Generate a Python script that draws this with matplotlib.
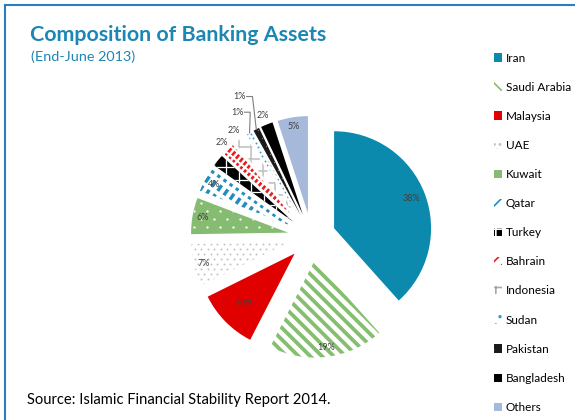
import numpy as np
import matplotlib
matplotlib.use("Agg")
import matplotlib.pyplot as plt
from matplotlib.lines import Line2D
from matplotlib.patches import Patch
from matplotlib.collections import LineCollection

plt.rcParams['font.family'] = ['Lato', 'DejaVu Sans']
plt.rcParams['lines.scale_dashes'] = False
plt.rcParams['hatch.linewidth'] = 1.2

# ---- data ----
countries = ["Iran", "Saudi Arabia", "Malaysia", "UAE", "Kuwait", "Qatar", "Turkey",
             "Bahrain", "Indonesia", "Sudan", "Pakistan", "Bangladesh", "Others"]
shares = [38, 19, 10, 7, 6, 4, 2, 2, 2, 1, 1, 2, 5]
show_label = [True, True, True, True, True, True, False, True, True, True, True, True, True]

title = "Composition of Banking Assets"
subtitle = "(End-June 2013)"
source = "Source: Islamic Financial Stability Report 2014."

# ---- styles ----
face = ['#0B8AAD', 'white', '#E00000', 'white', '#86BC72', 'white', 'black',
        'white', 'white', 'white', '#1A1A1A', 'black', '#A6B9DA']
patterns = [
    None,
    ('stripes', dict(angle=-45, spacing=8.3, width=3.8, color='#86BE70')),
    None,
    ('dots', dict(dx=6.5, dy=5.0, size=2.0, color='#C4C4C4')),
    ('dots', dict(dx=13.0, dy=8.0, size=2.4, color='#F2F7EE')),
    ('stripes', dict(angle=55, spacing=7.5, width=3.4, color='#1F8DBF', dash=(7, 4))),
    ('grid', dict(spacing=12.5, width=1.3, color='white', angle=0)),
    ('stripes', dict(angle=50, spacing=5.0, width=2.6, color='#E81E1E', dash=(5, 2))),
    ('grid', dict(spacing=12.0, width=1.6, color='#C0C0C0', angle=0)),
    ('dots', dict(dx=4.5, dy=4.5, size=1.9, color='#3A9BD0')),
    ('dots', dict(dx=8.0, dy=8.0, size=1.2, color='#888888')),
    None,
    None,
]
legend_hatch = [None, '\\\\\\', None, '...', '.', '///', '++', '///', '++', '..', '.', None, None]
legend_hcol = ['#0B8AAD', '#86BE70', '#E00000', '#BDBDBD', 'white', '#1F8DBF', 'white',
               '#E81E1E', '#A8A8A8', '#3A9BD0', 'white', 'black', '#A6B9DA']
label_r = [0.85, 0.9, 0.73, 0.9, 0.89, 0.9, 0.9, 1.1, 1.11, 1.25, 1.38, 1.1, 0.9]
leader = [False] * 9 + [True, True] + [False, False]

W, H = 575, 420
R = 97.0
cx, cy = 311.7, 420 - 236.8
PT = 0.72  # points per pixel at 100 dpi

fig = plt.figure(figsize=(W / 100, H / 100), dpi=100)
ax = fig.add_axes([0, 0, 1, 1])

wedges, _ = ax.pie(shares, startangle=90, counterclock=False, explode=[0.247] * len(shares),
                   wedgeprops=dict(linewidth=0))
for i, w in enumerate(wedges):
    w.set_facecolor(face[i])
    w.set_linewidth(0)


def add_stripes(w, angle, spacing, width, color, dash=None):
    c = np.array(w.center)
    a = np.deg2rad(angle)
    u = np.array([np.cos(a), np.sin(a)])
    n = np.array([-u[1], u[0]])
    s = spacing / R
    segs = []
    for k in np.arange(-1.5, 1.5 + s, s):
        p = c + k * n
        segs.append([p - 1.5 * u, p + 1.5 * u])
    ls = 'solid' if dash is None else (0, (dash[0] * PT, dash[1] * PT))
    lc = LineCollection(segs, colors=color, linewidths=width * PT, linestyles=ls,
                        capstyle='butt', zorder=w.get_zorder() + 0.1)
    ax.add_collection(lc)
    lc.set_clip_path(w)


def add_dots(w, dx, dy, size, color):
    c = np.array(w.center)
    sx, sy = dx / R, dy / R
    xs, ys = [], []
    for j, y in enumerate(np.arange(c[1] - 1.1, c[1] + 1.1, sy)):
        off = (sx / 2) if j % 2 else 0
        for x in np.arange(c[0] - 1.1 + off, c[0] + 1.1, sx):
            xs.append(x)
            ys.append(y)
    sc = ax.scatter(xs, ys, s=(size * PT) ** 2, c=color, linewidths=0,
                    zorder=w.get_zorder() + 0.1)
    sc.set_clip_path(w)


def add_grid(w, spacing, width, color, angle=0):
    add_stripes(w, angle, spacing, width, color)
    add_stripes(w, angle + 90, spacing, width, color)


for i, w in enumerate(wedges):
    if patterns[i] is None:
        continue
    kind, p = patterns[i]
    if kind == 'stripes':
        add_stripes(w, **p)
    elif kind == 'dots':
        add_dots(w, **p)
    elif kind == 'grid':
        add_grid(w, **p)

ax.set_xlim(-cx / R, (W - cx) / R)
ax.set_ylim(-cy / R, (H - cy) / R)
ax.set_aspect('equal')
ax.axis('off')

# data labels
for i, w in enumerate(wedges):
    if not show_label[i]:
        continue
    ang = np.deg2rad((w.theta1 + w.theta2) / 2)
    c0, c1 = w.center
    lx = c0 + label_r[i] * np.cos(ang)
    ly = c1 + label_r[i] * np.sin(ang)
    ax.text(lx, ly, f"{shares[i]}%", ha='center', va='center', fontsize=6.5,
            color='#404040', zorder=10)
    if leader[i]:
        ox = c0 + np.cos(ang)
        oy = c1 + np.sin(ang)
        rx = lx + 0.075
        ax.plot([rx, rx + 0.06, ox], [ly, ly, oy], color='#7F7F7F', lw=0.8, zorder=10)

# legend
handles = []
for i in range(len(countries)):
    handles.append(Patch(facecolor=face[i], edgecolor=legend_hcol[i], linewidth=0,
                         hatch=legend_hatch[i]))
leg = fig.legend(handles, countries, loc='upper left',
                 bbox_to_anchor=(494 / W, 1 - 52.5 / H), frameon=False, fontsize=8.5,
                 handlelength=0.7, handleheight=0.7, handletextpad=0.3,
                 labelspacing=1.535, borderaxespad=0, borderpad=0)

# titles
fig.text(30 / W, 1 - 35 / H, title, fontsize=15.4, fontweight='bold', color='#1C86B4',
         ha='left', va='center')
fig.text(31 / W, 1 - 57 / H, subtitle, fontsize=10.4, color='#1C86B4', ha='left', va='center')
fig.text(27 / W, 1 - 400 / H, source, fontsize=10.6, color='black', ha='left', va='center')

# frame border
fig.add_artist(Line2D([5 / W, 5 / W], [0, 1 - 5 / H], color='#2B7EBF', lw=1.5,
                      transform=fig.transFigure))
fig.add_artist(Line2D([5 / W, 1], [1 - 5 / H, 1 - 5 / H], color='#2B7EBF', lw=1.5,
                      transform=fig.transFigure))

fig.savefig('out.png', dpi=100)
